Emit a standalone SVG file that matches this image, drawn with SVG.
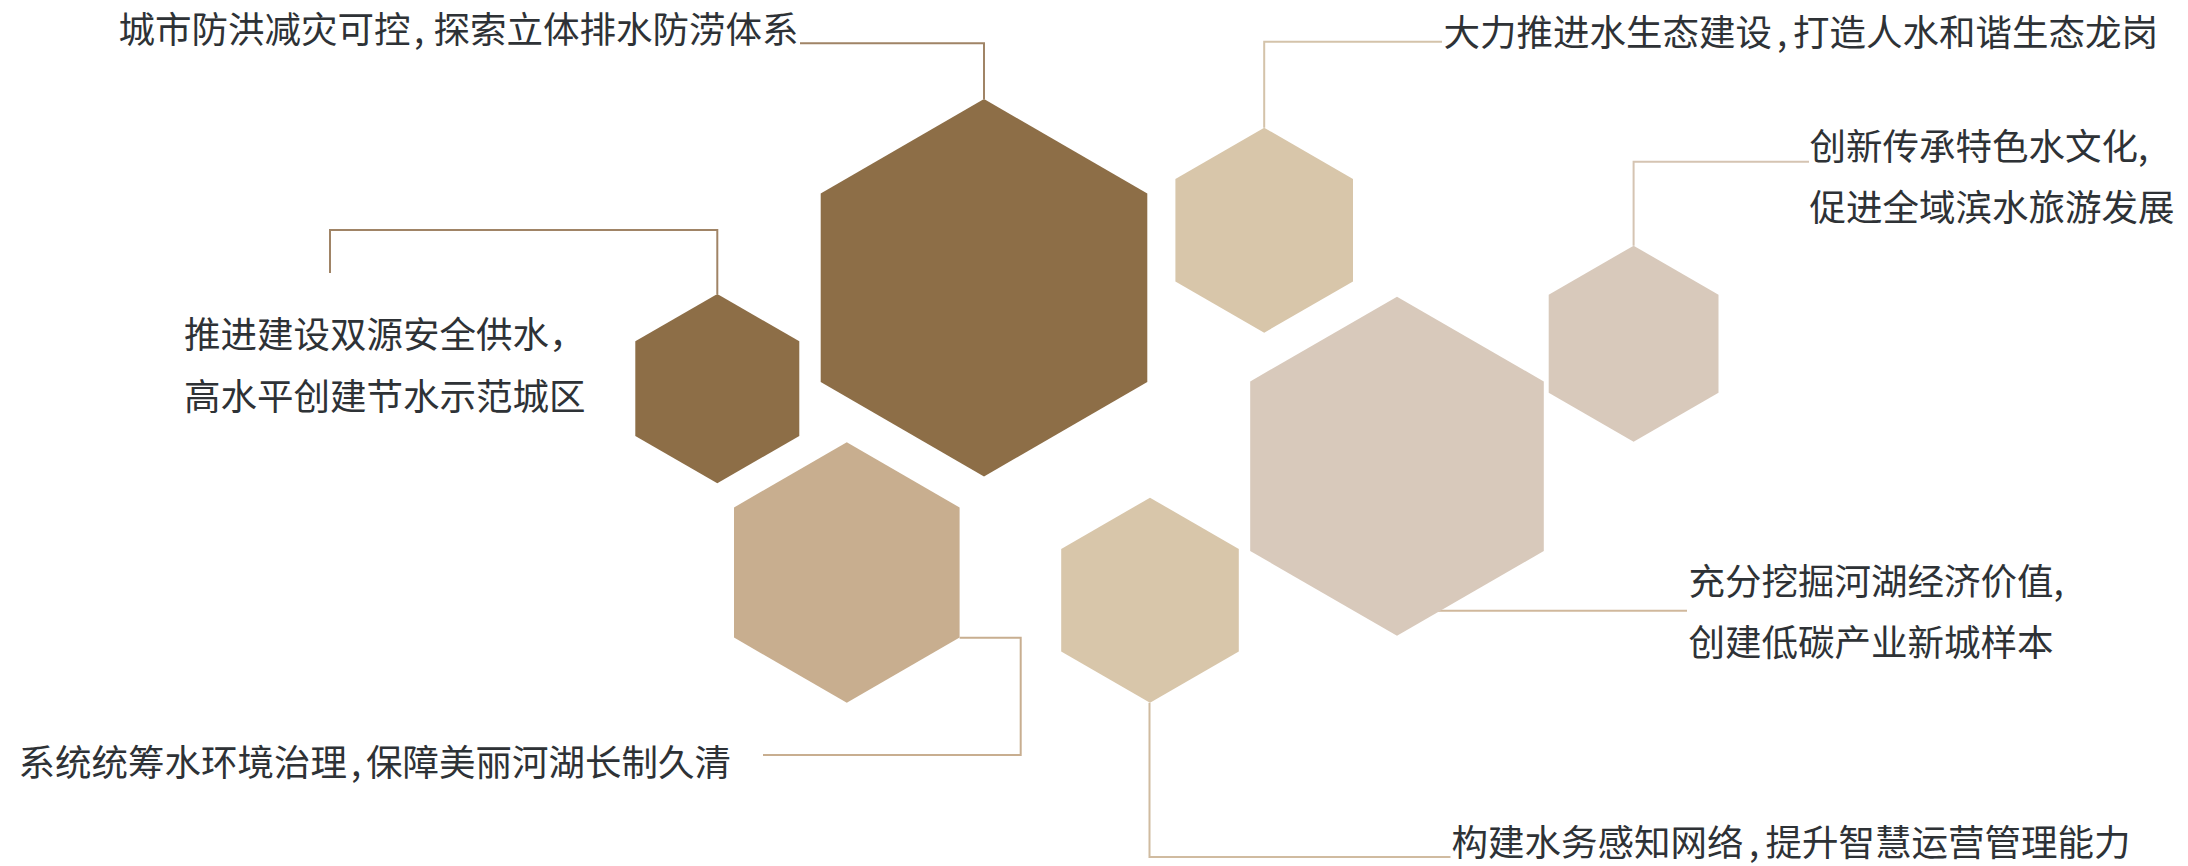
<svg xmlns="http://www.w3.org/2000/svg" width="2188" height="866" viewBox="0 0 2188 866">
  <style>
    .t { font-family: "Noto Sans CJK SC", "Noto Sans", sans-serif; font-size: 36.5px; fill: #2E3236; }
    .c { fill: none; stroke-width: 2; }
    .dark { fill: #8D6E47; }
    .tan { fill: #C8AE8F; }
    .gold { fill: #D8C6AA; }
    .pink { fill: #D8C9BB; }
  </style>
  <rect width="2188" height="866" fill="#FFFFFF"/>
  <g id="connectors">
    <polyline class="c" stroke="#A08466" points="800,43.3 984,43.3 984,99"/>
    <polyline class="c" stroke="#A08466" points="330,273 330,230 717.3,230 717.3,294"/>
    <polyline class="c" stroke="#D4C3AA" points="1442,41.7 1264.2,41.7 1264.2,127.7"/>
    <polyline class="c" stroke="#D5C4B2" points="1809,161.7 1633.6,161.7 1633.6,245.7"/>
    <polyline class="c" stroke="#D0B89C" points="1430,610.7 1687,610.7"/>
    <polyline class="c" stroke="#C8AE90" points="763,755 1020.7,755 1020.7,637.7 959.6,637.7"/>
    <polyline class="c" stroke="#D0BBA0" points="1149.5,702.7 1149.5,857 1450.5,857"/>
  </g>
  <g id="hex-flood">
    <polygon class="dark" points="984,99 1147.3,193.4 1147.3,382.1 984,476.5 820.7,382.1 820.7,193.4"/>
    <text class="t" y="42.5"><tspan x="118.5">城市防洪减灾可控</tspan><tspan x="414">,</tspan><tspan x="433.5">探索立体排水防涝体系</tspan></text>
  </g>
  <g id="hex-supply">
    <polygon class="dark" points="717.3,294 799.3,341.3 799.3,436 717.3,483.3 635.3,436 635.3,341.3"/>
    <text class="t" x="184" y="347.5">推进建设双源安全供水，</text>
    <text class="t" x="184" y="409.5">高水平创建节水示范城区</text>
  </g>
  <g id="hex-environment">
    <polygon class="tan" points="846.8,442.3 959.6,507.4 959.6,637.6 846.8,702.7 734,637.6 734,507.4"/>
    <text class="t" y="775.5"><tspan x="18.5">系统统筹水环境治理</tspan><tspan x="351">,</tspan><tspan x="366">保障美丽河湖长制久清</tspan></text>
  </g>
  <g id="hex-ecology">
    <polygon class="gold" points="1264.2,127.7 1353,178.95 1353,281.45 1264.2,332.7 1175.4,281.45 1175.4,178.95"/>
    <text class="t" y="45.5"><tspan x="1443.5">大力推进水生态建设</tspan><tspan x="1777">,</tspan><tspan x="1793">打造人水和谐生态龙岗</tspan></text>
  </g>
  <g id="hex-economy">
    <polygon class="pink" points="1397,296.7 1543.8,381.45 1543.8,550.95 1397,635.7 1250.2,550.95 1250.2,381.45"/>
    <text class="t" x="1688.5" y="595">充分挖掘河湖经济价值,</text>
    <text class="t" x="1688.5" y="656">创建低碳产业新城样本</text>
  </g>
  <g id="hex-culture">
    <polygon class="pink" points="1633.6,245.7 1718.5,294.7 1718.5,392.7 1633.6,441.7 1548.7,392.7 1548.7,294.7"/>
    <text class="t" x="1809.5" y="159.5">创新传承特色水文化,</text>
    <text class="t" x="1809.5" y="221">促进全域滨水旅游发展</text>
  </g>
  <g id="hex-smart">
    <polygon class="gold" points="1150,497.7 1238.8,548.95 1238.8,651.45 1150,702.7 1061.2,651.45 1061.2,548.95"/>
    <text class="t" y="856"><tspan x="1451.5">构建水务感知网络</tspan><tspan x="1749">,</tspan><tspan x="1765.5">提升智慧运营管理能力</tspan></text>
  </g>
</svg>
